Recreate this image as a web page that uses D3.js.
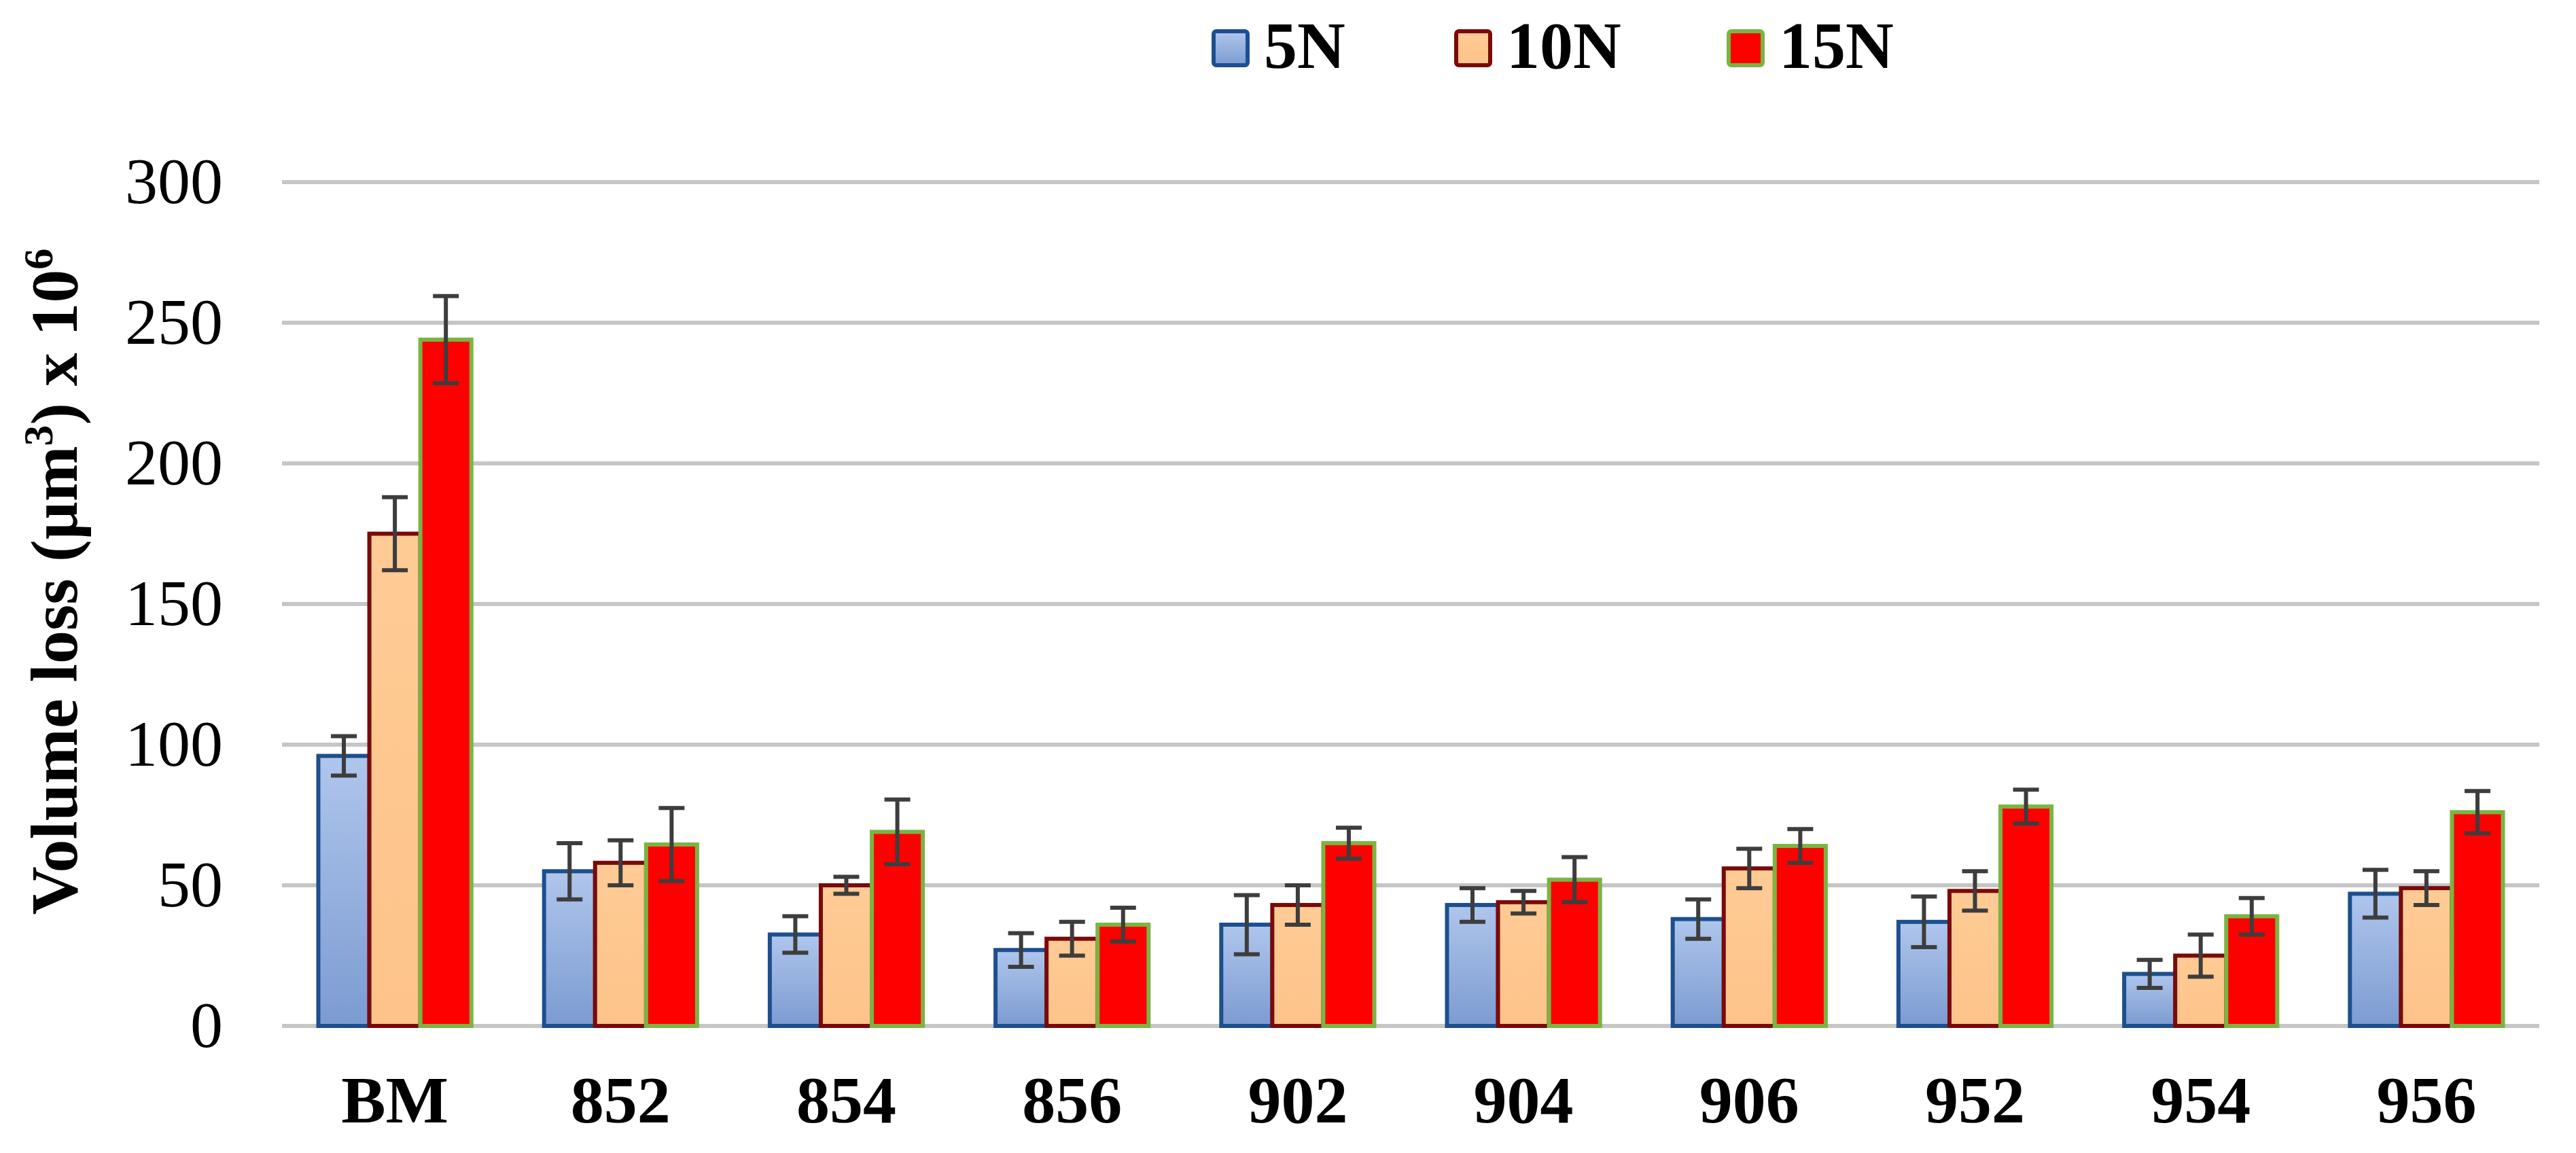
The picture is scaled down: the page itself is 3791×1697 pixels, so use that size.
<!DOCTYPE html>
<meta charset="utf-8">
<script src="https://d3js.org/d3.v7.min.js"></script>
<style>
  body { margin: 0; background: #fff; }
  text { font-family: "Liberation Serif", "Times New Roman", serif; }
</style>
<div id="chart"></div>
<script>
// data
var categories = ["BM", "852", "854", "856", "902", "904", "906", "952", "954", "956"];
var seriesNames = ["5N", "10N", "15N"];
var mean5N  = [96, 55, 32.5, 27, 36, 43, 38, 37, 18.5, 47];
var mean10N = [175, 58, 50, 31, 43, 44, 56, 48, 25, 49];
var mean15N = [244, 64.5, 69, 36, 65, 52, 64, 78, 39, 76];
var err5N  = [7, 10, 6.5, 6, 10.5, 6, 7, 9, 5, 8.5];
var err10N = [13, 8, 3, 6, 7, 4, 7, 7, 7.5, 6];
var err15N = [15.5, 13, 11.5, 6, 5.5, 8, 6, 6, 6.5, 7.5];
var yTicks = [0, 50, 100, 150, 200, 250, 300];

var width = 3791, height = 1697;
var plot = {left: 415, right: 3737, top: 268, bottom: 1510};

var means = [mean5N, mean10N, mean15N];
var errs = [err5N, err10N, err15N];
var rows = [];
categories.forEach(function(c, i) {
  seriesNames.forEach(function(s, j) {
    rows.push({cat: c, series: s, value: means[j][i], err: errs[j][i]});
  });
});

var svg = d3.select("#chart").append("svg")
  .attr("width", width)
  .attr("height", height);

// gradients
var defs = svg.append("defs");
var gBlue = defs.append("linearGradient").attr("id", "gBlue")
  .attr("x1", 0).attr("y1", 0).attr("x2", 0).attr("y2", 1);
gBlue.append("stop").attr("offset", "0%").attr("stop-color", "#afc6ec");
gBlue.append("stop").attr("offset", "100%").attr("stop-color", "#7c9bd1");
var gOrange = defs.append("linearGradient").attr("id", "gOrange")
  .attr("x1", 0).attr("y1", 0).attr("x2", 0).attr("y2", 1);
gOrange.append("stop").attr("offset", "0%").attr("stop-color", "#ffcb95");
gOrange.append("stop").attr("offset", "100%").attr("stop-color", "#fdc38a");

var fill = d3.scaleOrdinal().domain(seriesNames).range(["url(#gBlue)", "url(#gOrange)", "#ff0000"]);
var edge = d3.scaleOrdinal().domain(seriesNames).range(["#1d4f8f", "#7a0a0a", "#7ab443"]);

var x0 = d3.scaleBand()
  .domain(categories)
  .range([plot.left, plot.right])
  .paddingInner(0.322)
  .paddingOuter(0.161);

var x1 = d3.scaleBand()
  .domain(seriesNames)
  .range([0, x0.bandwidth()]);

var y = d3.scaleLinear()
  .domain([0, 300])
  .range([plot.bottom, plot.top]);

// gridlines
svg.append("g")
  .selectAll("line")
  .data(yTicks)
  .enter()
  .append("line")
    .attr("x1", plot.left)
    .attr("x2", plot.right)
    .attr("y1", function(d) { return y(d); })
    .attr("y2", function(d) { return y(d); })
    .attr("stroke", "#c6c6c6")
    .attr("stroke-width", 6);

// y axis labels
var yAxis = svg.append("g")
  .attr("transform", "translate(" + (plot.left - 87) + ",0)")
  .call(d3.axisLeft(y).tickValues(yTicks).tickSize(0).tickPadding(0));
yAxis.select(".domain").remove();
yAxis.selectAll("text")
  .style("font-family", "Liberation Serif")
  .style("font-size", "96px")
  .attr("fill", "#000");

// x axis labels
var xAxis = svg.append("g")
  .attr("transform", "translate(0," + plot.bottom + ")")
  .call(d3.axisBottom(x0).tickSize(0).tickPadding(0));
xAxis.select(".domain").remove();
xAxis.selectAll("text")
  .attr("dy", null)
  .attr("y", 142)
  .style("font-family", "Liberation Serif")
  .style("font-size", "98px")
  .style("font-weight", "bold")
  .attr("fill", "#000");

// bars
svg.append("g")
  .selectAll("rect")
  .data(rows)
  .enter()
  .append("rect")
    .attr("x", function(d) { return x0(d.cat) + x1(d.series); })
    .attr("y", function(d) { return y(d.value); })
    .attr("width", x1.bandwidth())
    .attr("height", function(d) { return y(0) - y(d.value); })
    .attr("fill", function(d) { return fill(d.series); })
    .attr("stroke", function(d) { return edge(d.series); })
    .attr("stroke-width", 6);

// error bars
var eb = svg.append("g")
  .selectAll("g")
  .data(rows)
  .enter()
  .append("g")
    .attr("stroke", "#3d3d3d")
    .attr("stroke-width", 6);
var cx = function(d) { return x0(d.cat) + x1(d.series) + x1.bandwidth() / 2; };
eb.append("line")
  .attr("x1", cx).attr("x2", cx)
  .attr("y1", function(d) { return y(d.value + d.err); })
  .attr("y2", function(d) { return y(d.value - d.err); });
eb.append("line")
  .attr("x1", function(d) { return cx(d) - 19; })
  .attr("x2", function(d) { return cx(d) + 19; })
  .attr("y1", function(d) { return y(d.value + d.err); })
  .attr("y2", function(d) { return y(d.value + d.err); });
eb.append("line")
  .attr("x1", function(d) { return cx(d) - 19; })
  .attr("x2", function(d) { return cx(d) + 19; })
  .attr("y1", function(d) { return y(d.value - d.err); })
  .attr("y2", function(d) { return y(d.value - d.err); });

// y axis title
var title = svg.append("text")
  .attr("transform", "translate(113,856) rotate(-90)")
  .attr("text-anchor", "middle")
  .style("font-size", "98px")
  .style("font-weight", "bold")
  .attr("fill", "#000");
title.append("tspan").text("Volume loss (\u00b5m");
title.append("tspan").attr("dy", -36).style("font-size", "62px").text("3");
title.append("tspan").attr("dy", 36).text(") x 10");
title.append("tspan").attr("dy", -36).style("font-size", "62px").text("6");

// legend
var legendX = [1783, 2140, 2541];
var legend = svg.append("g")
  .selectAll("g")
  .data(seriesNames)
  .enter()
  .append("g")
    .attr("transform", function(d, i) { return "translate(" + legendX[i] + ",43)"; });
legend.append("rect")
  .attr("x", 3).attr("y", 3)
  .attr("width", 50).attr("height", 50)
  .attr("rx", 4)
  .attr("fill", function(d) { return fill(d); })
  .attr("stroke", function(d) { return edge(d); })
  .attr("stroke-width", 6);
legend.append("text")
  .attr("x", 77)
  .attr("y", 57)
  .style("font-size", "98px")
  .style("font-weight", "bold")
  .attr("fill", "#000")
  .text(function(d) { return d; });
</script>
